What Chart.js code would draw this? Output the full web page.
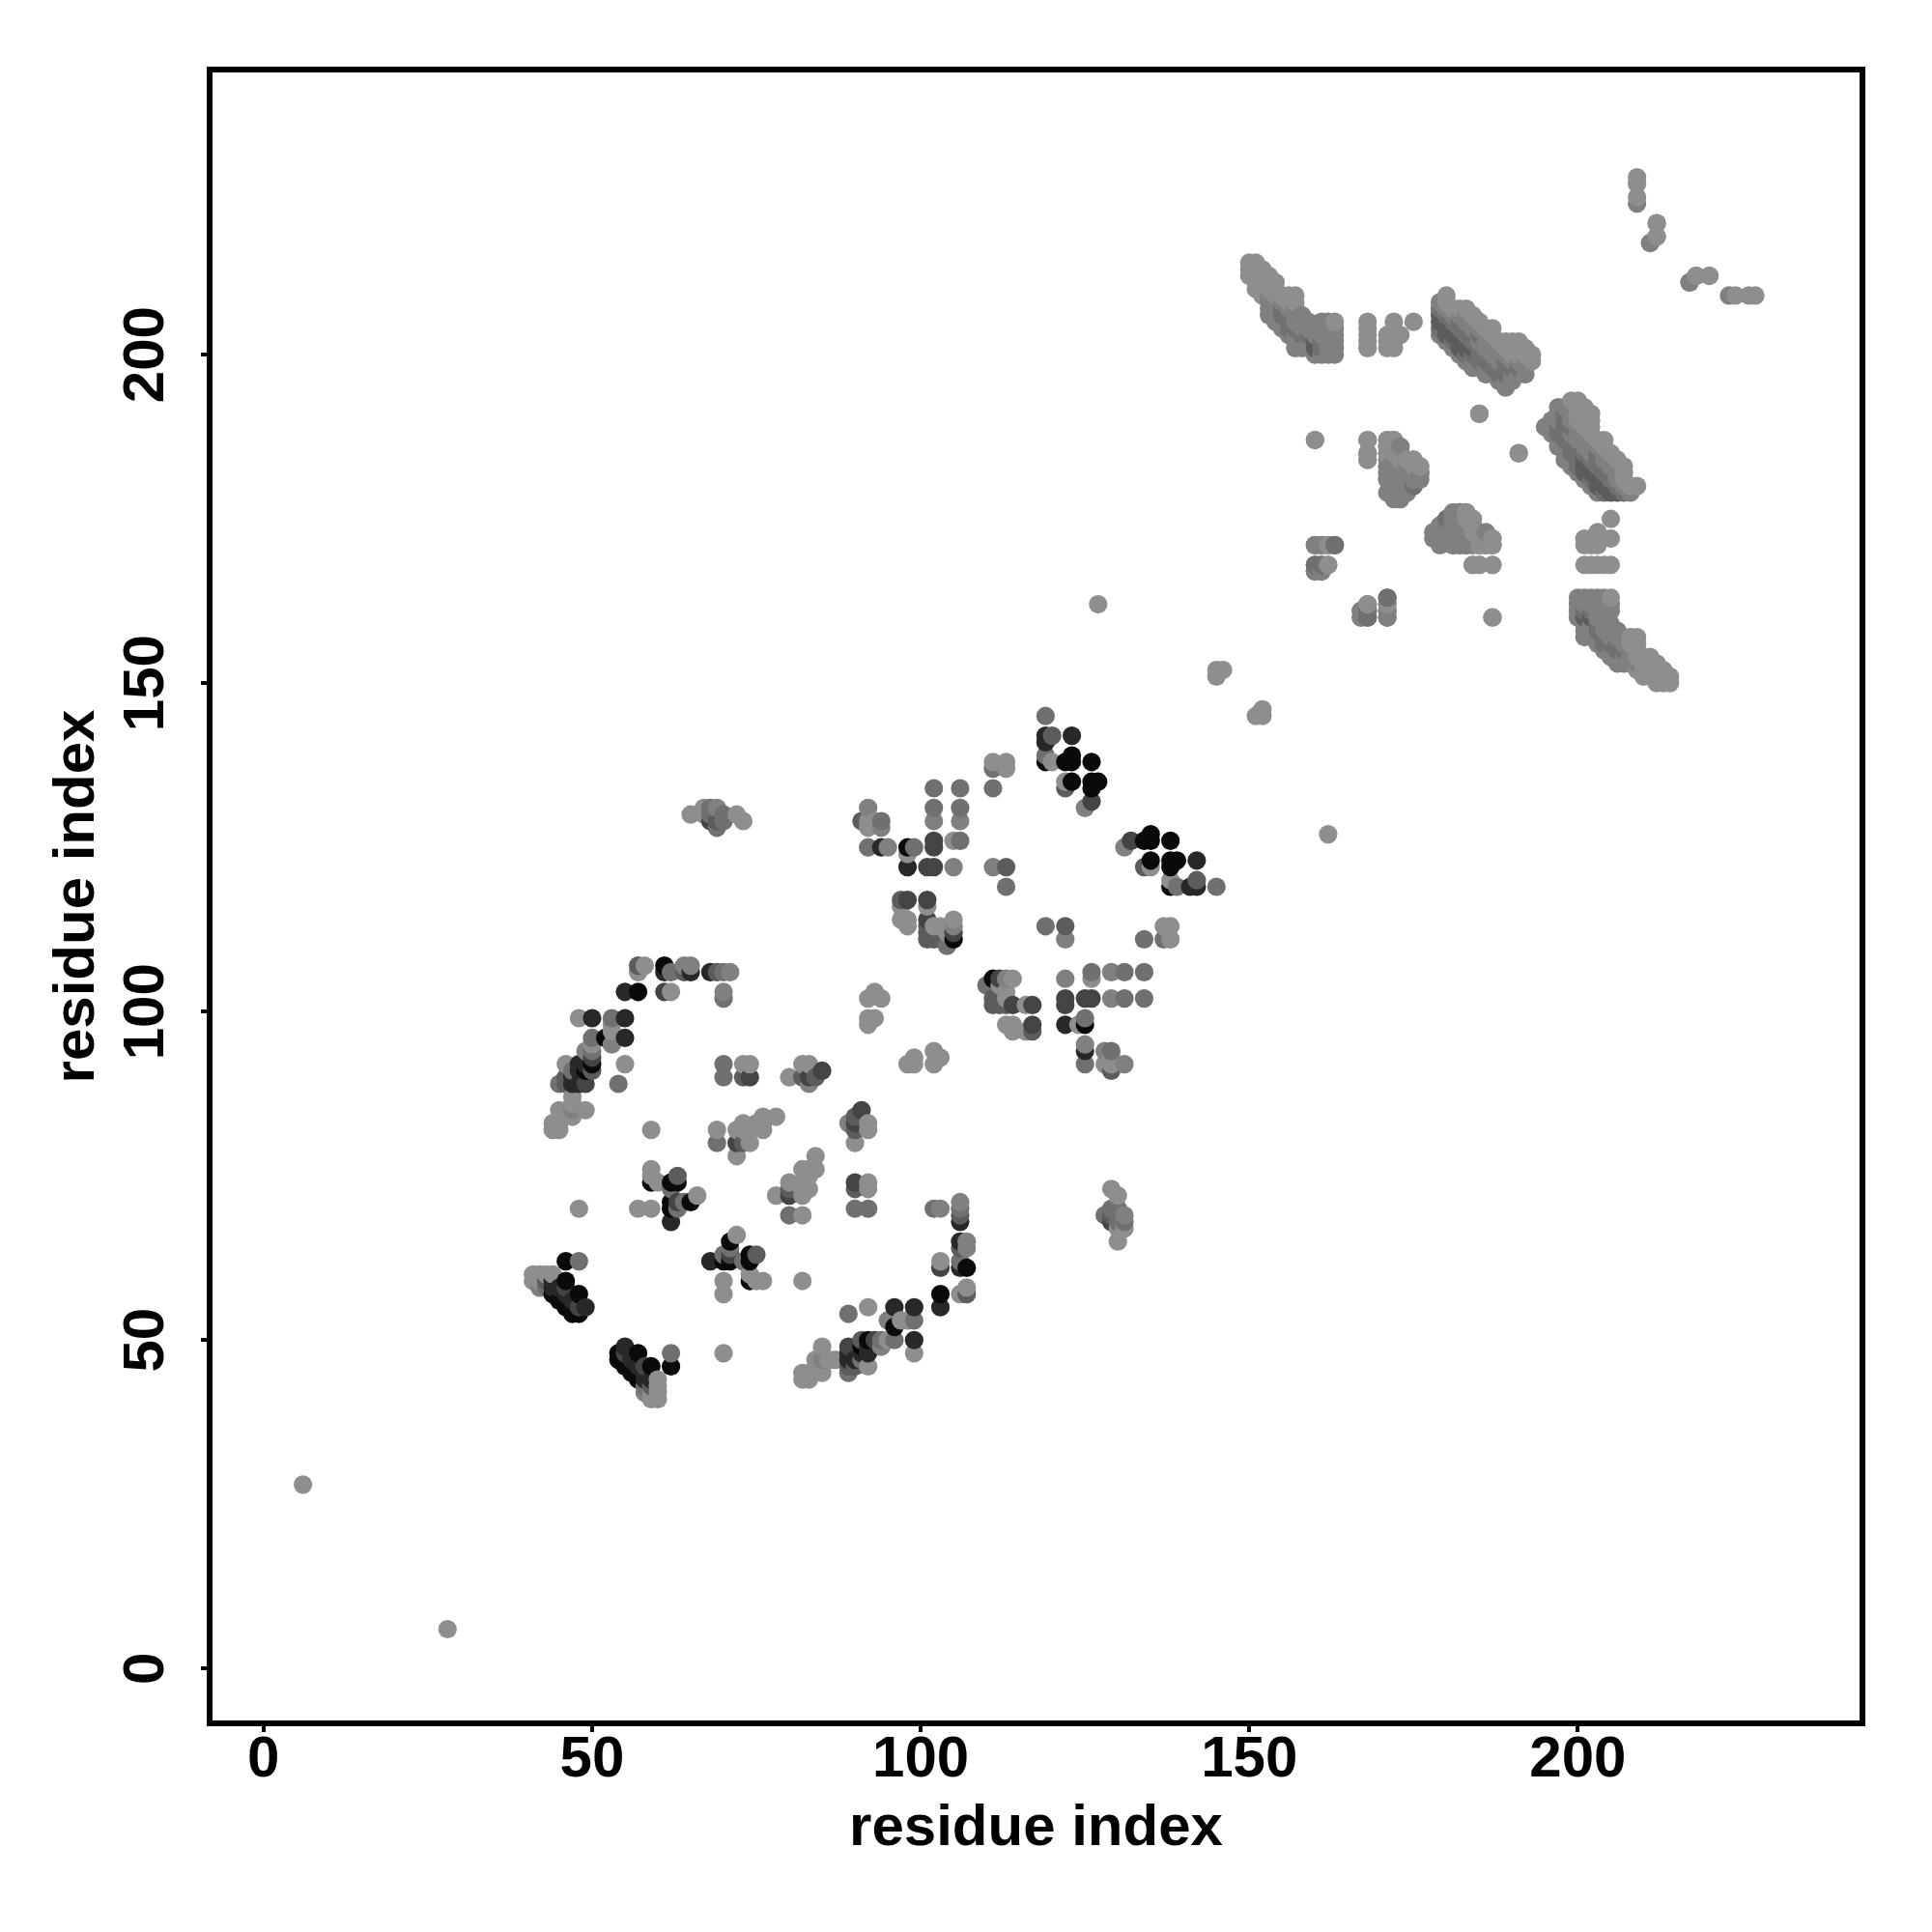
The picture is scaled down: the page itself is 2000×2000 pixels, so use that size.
<!DOCTYPE html>
<html lang="en">
<head>
  <meta charset="UTF-8" />
  <title>Residue contact map</title>
  <script src="https://cdn.jsdelivr.net/npm/chart.js"></script>
  <style>
    body { margin: 0; background: #fff; }
    canvas { display: block; }
  </style>
</head>
<body>
<canvas id="contactMap" width="2000" height="2000"></canvas>

<script>
  const axisLabel = "residue index";
  const tickValues = [0, 50, 100, 150, 200];

  const shade0 = [[54,48],[54,47],[57,48],[56,45],[59,46],[55,46],[57,44],[62,46],[91,49],[92,50],[96,52],[103,57],[107,61],
    [71,65],[70,62],[71,62],[74,62],[74,63],[74,59],[111,105],[125,98],[134,126],[135,127],[135,126],[138,126],[135,123],
    [138,123],[138,122],[138,119],[139,123]];
  const shade1 = [[55,49],[56,47],[57,46],[58,44],[58,45],[59,44],[89,47],[89,48],[90,47],[91,48],[92,49],[92,48],[96,55],
    [99,55],[99,50],[103,55],[106,61],[106,65],[106,68],[68,62],[122,98],[125,94],[141,119],[142,119],[142,123]];
  const shade2 = [[55,48],[58,46],[89,49],[90,74],[80,72],[90,83],[91,85],[103,61],[93,50],[71,63],[117,98],[117,101],[114,101],
    [112,105],[122,101],[122,102],[125,102],[126,102],[129,68],[132,126]];
  const shade3 = [[59,43],[89,46],[90,46],[91,50],[106,64],[106,69],[107,57],[75,63],[90,73],[90,84],[90,82],[80,73],[134,122],
    [142,120],[117,97],[113,101],[112,101],[111,101],[111,102],[122,113],[129,69],[129,91],[168,161],
    [201,183],[202,183],[204,180],[205,179],[201,182],[202,182],[203,182],[203,181],[204,181],[203,180],[205,180],[206,179],[201,184],[202,160],[201,160]];
  const shade4 = [[62,48],[58,43],[89,45],[89,54],[94,50],[96,50],[91,47],[99,53],[106,62],[106,70],[102,70],[90,70],[92,70],
    [80,69],[70,63],[73,62],[71,64],[145,119],[139,119],[134,106],[134,102],[126,106],[131,106],[131,102],[125,92],[129,94],
    [125,99],[119,113],[134,111],[137,111],[110,104],[129,70],[128,69],[130,68],[131,68],[130,70],
    [163,171],[160,168],[161,168],[171,163],[167,161],[168,160],[167,160],[176,182],[175,181],[172,184],[180,175],[180,174],
    [198,191],[198,190],[197,189],[198,189],[199,189],[197,188],[198,188],[198,187],[199,187],[199,186],[200,186],[199,185],
    [200,185],[201,185],[203,185],[200,184],[202,184],[203,184],[200,183],[203,183],[204,183],[204,182],[205,182],[202,181],
    [205,181],[206,180],[204,179],[207,179],[201,161],[202,161],[203,159],[203,158],[204,157],[204,156],[205,156],[206,155],[206,156],[207,155]];
  const shade5 = [[58,42],[85,47],[94,49],[95,53],[106,71],[107,64],[107,65],[103,70],[89,83],[125,95],[128,94],[131,92],[122,105],
    [129,106],[129,102],[131,125],[113,105],[122,111],[131,69],[162,168],[160,171],[161,171],[162,171],[160,167],[161,167],[171,161],[171,160],
    [172,186],[173,186],[172,185],[173,185],[171,184],[173,184],[174,184],[171,183],[172,183],[173,183],[174,183],[175,183],
    [171,182],[172,182],[173,182],[174,182],[175,182],[171,181],[172,181],[173,181],[174,181],[172,180],[173,180],[174,180],[172,179],[173,179],
    [181,176],[182,176],[181,175],[182,175],[179,174],[181,174],[182,174],[183,174],[178,173],[179,173],[180,173],[181,173],[182,173],[183,173],
    [178,172],[179,172],[180,172],[181,172],[182,172],[183,172],[184,172],[179,171],[181,171],[182,171],[183,171],
    [197,192],[198,192],[199,192],[197,191],[199,191],[196,190],[197,190],[199,190],[195,189],[196,189],[200,189],[196,188],[199,188],[200,188],[201,188],
    [197,187],[200,187],[201,187],[202,187],[197,186],[198,186],[201,186],[202,186],[203,186],[198,185],[202,185],[204,185],[198,184],[199,184],[204,184],[205,184],
    [199,183],[205,183],[206,183],[200,182],[206,182],[201,181],[206,181],[202,180],[207,180],[203,179],[208,179],
    [200,163],[201,163],[202,163],[203,163],[204,163],[200,162],[201,162],[202,162],[203,162],[204,162],[205,162],[200,161],[203,161],[204,161],[205,161],
    [200,160],[203,160],[204,160],[201,159],[202,159],[204,159],[205,159],[201,158],[202,158],[204,158],[205,158],[206,158],[201,157],[202,157],[203,157],[205,157],[206,157],[207,157],
    [203,156],[207,156],[204,155],[205,155],[208,155],[205,154],[206,154],[207,154],[208,154],[206,153],[207,153],[208,153],[209,153],
    [211,217],[218,212],[217,211],[223,209]];
  const shade6 = [[59,42],[59,41],[60,44],[60,43],[60,42],[60,41],[70,48],[82,45],[82,44],[83,45],[83,44],[84,47],[85,49],[85,45],[86,47],[87,47],
    [92,46],[92,55],[97,53],[98,53],[95,50],[99,48],[106,57],[107,58],[103,62],[80,74],[78,72],[82,69],[82,72],[82,73],[82,74],[82,76],[83,73],[83,75],[83,76],[84,76],[84,78],
    [90,80],[92,82],[92,83],[92,73],[92,74],[72,66],[70,59],[70,57],[74,60],[75,59],[76,59],[82,59],[135,122],[138,120],
    [137,113],[138,113],[138,111],[114,105],[113,102],[113,103],[112,104],[113,98],[114,98],[114,97],[116,97],[116,101],
    [124,98],[126,105],[129,93],[129,92],[128,92],[98,92],[99,92],[99,93],[102,92],[102,94],[103,93],[129,73],[130,72],[130,67],[131,67],[130,65],
    [162,127],[151,145],[152,145],[152,146],[185,191],[191,185],[187,160],[171,162],[168,162],[160,187],[168,187],[168,185],[168,184],
    [171,187],[172,187],[171,186],[171,185],[175,184],[176,183],[184,168],[185,168],[187,168],[183,176],[183,175],[184,175],[184,174],[184,173],[185,173],
    [185,172],[186,172],[187,172],[185,171],[186,171],[187,171],[205,175],[203,173],[201,172],[202,172],[205,172],[201,171],[202,171],[203,171],
    [201,168],[202,168],[203,168],[204,168],[205,168],[199,193],[200,193],[200,192],[201,192],[200,191],[201,191],[202,191],[200,190],[201,190],[202,190],
    [201,189],[202,189],[202,188],[203,187],[204,187],[204,186],[205,185],[206,184],[207,183],[207,182],[207,181],[208,180],[209,180],
    [205,163],[209,157],[208,157],[209,156],[208,156],[209,155],[209,154],[210,154],[211,154],[210,153],[211,153],[212,153],[209,152],[210,152],[211,152],[212,152],[213,152],
    [210,151],[211,151],[212,151],[213,151],[214,151],[212,150],[213,150],[214,150],[224,209],[226,209],[227,209],[220,212],[212,218],[212,220],[28,6]];

  const shadeLevels = [
    { points: shade0, color: "#0a0a0a" },
    { points: shade1, color: "#282828" },
    { points: shade2, color: "#444444" },
    { points: shade3, color: "#5c5c5c" },
    { points: shade4, color: "#707070" },
    { points: shade5, color: "#808080" },
    { points: shade6, color: "#8e8e8e" }
  ];

  // the map is symmetric, each contact shows on both sides of the diagonal
  const contacts = [];
  shadeLevels.forEach(level => {
    level.points.forEach(p => {
      contacts.push({ x: p[0], y: p[1], color: level.color });
      contacts.push({ x: p[1], y: p[0], color: level.color });
    });
  });
  contacts.sort((a, b) => a.x - b.x || a.y - b.y);

  const frame = {
    id: "frame",
    afterDraw(chart) {
      const a = chart.chartArea;
      const ctx = chart.ctx;
      ctx.save();
      ctx.strokeStyle = "#000";
      ctx.lineWidth = 6;
      ctx.strokeRect(a.left, a.top, a.right - a.left, a.bottom - a.top);
      ctx.restore();
    }
  };

  const axisFont = { family: "Liberation Sans", size: 60, weight: "bold" };

  function setTicks(scale) {
    scale.ticks = tickValues.map(v => ({ value: v }));
  }

  new Chart(document.getElementById("contactMap"), {
    type: "scatter",
    data: {
      datasets: [{
        data: contacts,
        pointRadius: 9.6,
        pointBorderWidth: 0,
        pointBackgroundColor: contacts.map(c => c.color)
      }]
    },
    options: {
      responsive: false,
      animation: false,
      layout: { padding: { top: 72, right: 72 } },
      plugins: { legend: { display: false }, tooltip: { enabled: false } },
      scales: {
        x: {
          min: -8.2,
          max: 243.3,
          afterBuildTicks: setTicks,
          afterFit(scale) { scale.height = 216; },
          grid: { drawOnChartArea: false, color: "#000", lineWidth: 4, tickLength: 9 },
          border: { display: false },
          ticks: { color: "#000", font: axisFont, padding: -7, maxRotation: 0 },
          title: { display: true, text: axisLabel, color: "#000", font: axisFont, padding: { top: 0, bottom: 71 } }
        },
        y: {
          min: -8.34,
          max: 243.4,
          afterBuildTicks: setTicks,
          afterFit(scale) { scale.width = 217; },
          grid: { drawOnChartArea: false, color: "#000", lineWidth: 4, tickLength: 9 },
          border: { display: false },
          ticks: { color: "#000", font: axisFont, padding: 5, minRotation: 90, maxRotation: 90, crossAlign: "center" },
          title: { display: true, text: axisLabel, color: "#000", font: axisFont, padding: { top: 44, bottom: 0 } }
        }
      }
    },
    plugins: [frame]
  });
</script>
</body>
</html>
